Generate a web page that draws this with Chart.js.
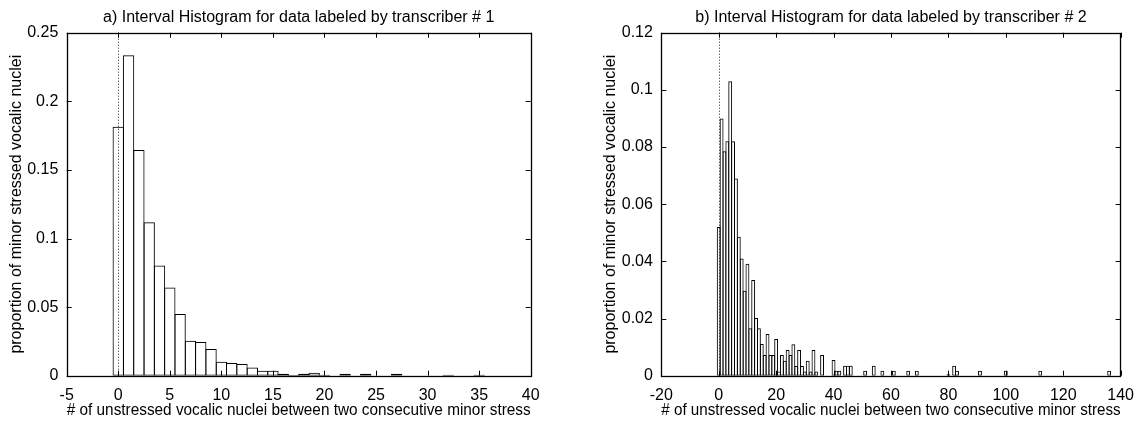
<!DOCTYPE html>
<html>
<head>
<meta charset="utf-8">
<script src="https://cdn.jsdelivr.net/npm/chart.js@4/dist/chart.umd.min.js"></script>
<style>
    html, body { margin: 0; padding: 0; background: #fff; }
    body { width: 1144px; height: 422px; position: relative; overflow: hidden; }
    canvas { position: absolute; top: 0; }
    #left { left: 0; }
    #right { left: 594px; }
</style>
</head>
<body>
<canvas id="left" width="572" height="422"></canvas>
<canvas id="right" width="550" height="422"></canvas>
<script>
// interval histograms, transcriber 1 and 2

// a) transcriber # 1
const leftX = [0, 1, 2, 3, 4, 5, 6, 7, 8, 9, 10, 11, 12, 13, 14, 15, 16, 17, 18, 19, 20, 22, 24, 27, 32, 35];
const leftY = [0.1815, 0.2336, 0.1645, 0.1119, 0.0803, 0.0643, 0.0449, 0.0255, 0.0245, 0.0194,
               0.0102, 0.0092, 0.0085, 0.006, 0.0036, 0.0036, 0.0015, 0.0005, 0.0015, 0.0022,
               0.0007, 0.0015, 0.0015, 0.0015, 0.0007, 0.0007];

// b) transcriber # 2
const rightX = [0, 1, 2, 3, 4, 5, 6, 7, 8, 9, 10, 11, 12, 13, 14, 15, 16, 17, 18, 19,
                20, 21, 22, 23, 24, 25, 26, 27, 28, 29, 30, 31, 32, 33, 34, 36,
                40, 41, 42, 44, 45, 46, 51, 54, 57, 61, 66, 69, 80, 82, 83, 91, 100, 112, 136];
const rightY = [0.052, 0.090, 0.0785, 0.082, 0.103, 0.082, 0.069, 0.0486, 0.041, 0.0297,
                0.0392, 0.0166, 0.0335, 0.0202, 0.0166, 0.0111, 0.0072, 0.0146, 0.0072, 0.0072,
                0.0128, 0.0015, 0.0072, 0.0052, 0.009, 0.0072, 0.011, 0.0034, 0.009, 0.0034,
                0.0015, 0.0052, 0.0015, 0.009, 0.0015, 0.0072,
                0.0055, 0.0017, 0.0017, 0.0035, 0.0035, 0.0035, 0.0017, 0.0035, 0.0017, 0.0017,
                0.0017, 0.0017, 0.0005, 0.0035, 0.0017, 0.0017, 0.0017, 0.0017, 0.0017];

const xTitle = '# of unstressed vocalic nuclei between two consecutive minor stress';
const yTitle = 'proportion of minor stressed vocalic nuclei';

Chart.defaults.font.family = "'Liberation Sans', Arial, Helvetica, sans-serif";
Chart.defaults.font.size = 16;
Chart.defaults.color = '#000';

function fmt(v) {
    return String(+v.toFixed(4));
}

// gnuplot style frame: box, ticks pointing inward, dotted line at x = 0
const framePlugin = {
    id: 'frame',
    beforeDatasetsDraw(chart) {
        const {ctx, chartArea: a, scales: {x}} = chart;
        const x0 = Math.round(x.getPixelForValue(0)) + 0.5;
        ctx.save();
        ctx.strokeStyle = '#222';
        ctx.lineWidth = 1;
        ctx.setLineDash([1, 2]);
        ctx.beginPath();
        ctx.moveTo(x0, a.top);
        ctx.lineTo(x0, a.bottom);
        ctx.stroke();
        ctx.restore();
    },
    afterDatasetsDraw(chart) {
        const {ctx, chartArea: a, scales: {x, y}} = chart;
        const len = 5;
        ctx.save();
        ctx.strokeStyle = '#000';
        ctx.lineWidth = 1;
        ctx.beginPath();
        x.ticks.forEach(t => {
            const px = Math.round(x.getPixelForValue(t.value)) + 0.5;
            ctx.moveTo(px, a.bottom);
            ctx.lineTo(px, a.bottom - len);
            ctx.moveTo(px, a.top);
            ctx.lineTo(px, a.top + len);
        });
        y.ticks.forEach(t => {
            const py = Math.round(y.getPixelForValue(t.value)) + 0.5;
            ctx.moveTo(a.left, py);
            ctx.lineTo(a.left + len, py);
            ctx.moveTo(a.right, py);
            ctx.lineTo(a.right - len, py);
        });
        ctx.stroke();
        ctx.lineWidth = 1.3;
        ctx.strokeRect(Math.round(a.left) + 0.5, Math.round(a.top) + 0.5,
                       Math.round(a.right - a.left), Math.round(a.bottom - a.top));
        ctx.restore();
    }
};

function makeChart(id, title, xs, ys, xMin, xMax, xStep, yMax, yStep, yWidth, padRight, barPct) {
    return new Chart(document.getElementById(id), {
        type: 'bar',
        data: {
            datasets: [{
                data: xs.map((v, i) => ({x: v, y: ys[i]})),
                backgroundColor: 'rgba(0,0,0,0)',
                borderColor: '#000',
                borderWidth: 1,
                borderSkipped: false,
                barPercentage: barPct,
                categoryPercentage: 1
            }]
        },
        options: {
            responsive: false,
            animation: false,
            layout: { padding: { left: 0, right: padRight, top: 0, bottom: 0 } },
            plugins: {
                legend: { display: false },
                tooltip: { enabled: false },
                title: {
                    display: true,
                    text: title,
                    fullSize: false,
                    font: { size: 16, weight: 'normal' },
                    padding: { top: 7.5, bottom: 6 }
                }
            },
            scales: {
                x: {
                    type: 'linear',
                    min: xMin,
                    max: xMax,
                    offset: false,
                    grid: { display: false, drawTicks: false, offset: false },
                    border: { display: false },
                    ticks: { stepSize: xStep, padding: 10, maxRotation: 0, callback: fmt },
                    title: { display: true, text: xTitle, padding: { top: 0, bottom: 2 } },
                    afterFit(s) { s.height = 46.3; }
                },
                y: {
                    min: 0,
                    max: yMax,
                    grid: { display: false, drawTicks: false },
                    border: { display: false },
                    ticks: { stepSize: yStep, padding: 8.4, callback: fmt },
                    title: { display: true, text: yTitle, padding: { top: 7, bottom: 0 } },
                    afterFit(s) { s.width = yWidth; }
                }
            }
        },
        plugins: [framePlugin]
    });
}

makeChart('left', 'a) Interval Histogram for data labeled by transcriber # 1',
          leftX, leftY, -5, 40, 5, 0.25, 0.05, 66.7, 41.3, 1.1);
makeChart('right', 'b) Interval Histogram for data labeled by transcriber # 2',
          rightX, rightY, -20, 140, 20, 0.12, 0.02, 67.3, 20.7, 1.35);
</script>
</body>
</html>
